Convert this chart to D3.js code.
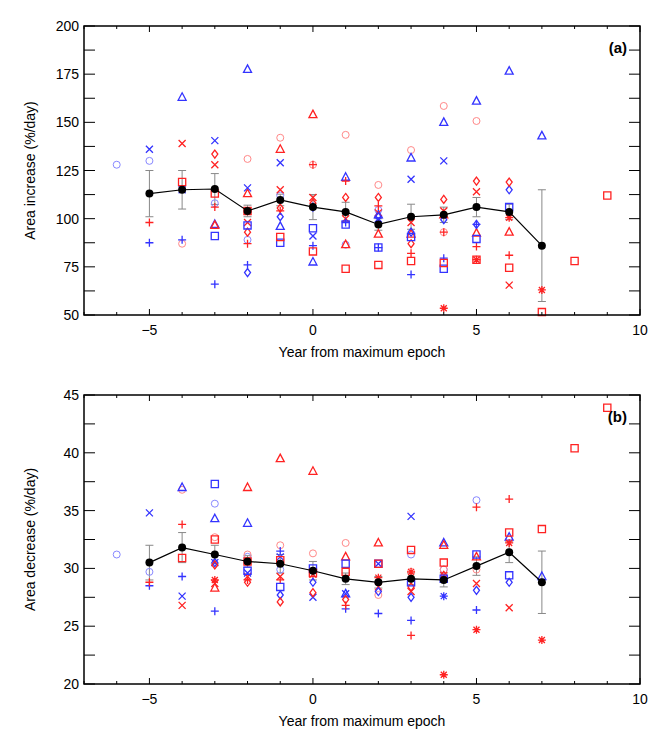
<!DOCTYPE html>
<html>
<head>
<meta charset="utf-8">
<script src="https://cdn.jsdelivr.net/npm/d3@7"></script>
<style>
  body { margin: 0; background: #fff; }
  text { font-family: "Liberation Sans", Arial, sans-serif; }
</style>
</head>
<body>
<div id="chart"></div>
<script>
// ---- data: [year from maximum epoch, value] ----
const years = [-5, -4, -3, -2, -1, 0, 1, 2, 3, 4, 5, 6, 7]

// panel (a) area increase (%/day)
const meanA = [113, 115, 115.4, 104, 109.7, 106, 103.5, 97, 101, 102, 106, 103.5, 86]
const errA = [12, 10, 8, 3, 3, 6.5, 5, 3, 6.5, 4, 5, 4, 29]
const blueCircleA = [[-6, 128], [-5, 130], [-3, 108], [-2, 89], [-1, 112], [1, 86.5], [2, 104.5]]
const redCircleA = [[-4, 87], [-2, 131], [-1, 142], [0, 128], [1, 143.5], [2, 117.5], [3, 135.6], [4, 158.5], [4, 93], [5, 150.7]]
const blueTriangleA = [[-4, 163], [-3, 97], [-2, 177.5], [-1, 96], [0, 77.5], [1, 121.5], [2, 102], [3, 131.5], [4, 150], [5, 161], [6, 176.6], [7, 143]]
const redTriangleA = [[-3, 96.5], [-2, 113], [-1, 136], [0, 154], [1, 86.5], [2, 92], [3, 92], [4, 102], [5, 92.5], [6, 93]]
const blueXA = [[-5, 136], [-4, 115], [-3, 140.5], [-2, 116], [-1, 129], [0, 91], [2, 100], [3, 120.5], [4, 130]]
const redXA = [[-4, 139], [-3, 128], [-2, 98], [-1, 115], [0, 111], [1, 100], [2, 103], [3, 98], [4, 104], [5, 114], [6, 65.5]]
const bluePlusA = [[-5, 87.5], [-4, 89], [-3, 66], [-2, 76], [0, 86], [1, 98], [2, 85], [3, 71], [4, 79.5], [5, 97]]
const redPlusA = [[-5, 98], [-3, 106], [-2, 87], [-1, 104], [0, 128], [1, 119.5], [2, 106.6], [3, 82], [4, 93], [5, 85.5], [6, 81]]
const blueDiamondA = [[-2, 72], [-1, 101], [0, 106], [2, 101], [3, 93], [4, 99.5], [5, 97], [6, 115]]
const redDiamondA = [[-3, 133.5], [-2, 93], [-1, 105.5], [0, 108], [1, 111], [2, 111], [3, 87], [4, 110], [5, 119.5], [6, 119]]
const blueSquareA = [[-3, 91], [-2, 96.5], [-1, 87.5], [0, 95], [1, 97], [2, 85], [3, 90.5], [4, 74], [5, 89.5], [6, 106]]
const redSquareA = [[-4, 119], [-3, 113], [-2, 104], [-1, 90.5], [0, 83], [1, 74], [2, 76], [3, 78], [4, 77], [5, 78.7], [6, 74.5], [7, 51.5], [8, 78], [9, 112]]
const redStarA = [[4, 53.5], [5, 78.7], [6, 100.5], [7, 63]]

// panel (b) area decrease (%/day)
const meanB = [30.5, 31.8, 31.2, 30.6, 30.4, 29.8, 29.1, 28.8, 29.1, 29.0, 30.2, 31.4, 28.8]
const errB = [1.5, 1.3, 0.8, 0.5, 0.8, 0.8, 0.5, 0.5, 0.5, 0.6, 0.8, 0.9, 2.7]
const blueCircleB = [[-6, 31.2], [-5, 29.7], [-3, 35.6], [-2, 31], [-1, 29.9], [3, 31.2], [5, 35.9], [4, 29.9]]
const redCircleB = [[-4, 36.8], [-3, 32.7], [-2, 31.2], [-1, 32], [0, 31.3], [1, 32.2], [2, 27.7], [3, 29.7], [4, 29.9], [5, 29.9], [6, 32.5]]
const blueTriangleB = [[-4, 37], [-3, 34.3], [-2, 33.9], [1, 27.8], [4, 32.2], [6, 32.7], [7, 29.3]]
const redTriangleB = [[-3, 28.3], [-2, 37], [-1, 39.5], [0, 38.4], [1, 31], [2, 32.2], [4, 32], [5, 31]]
const blueXB = [[-5, 34.8], [-4, 27.6], [-3, 30.5], [-2, 29.6], [-1, 31], [0, 27.5], [1, 27.8], [2, 30.4], [3, 34.5]]
const redXB = [[-4, 26.8], [-3, 28.7], [-2, 29.3], [-1, 29.3], [0, 29.5], [2, 28.4], [3, 28], [4, 29.4], [5, 28.7], [6, 26.6]]
const bluePlusB = [[-5, 28.5], [-4, 29.3], [-3, 26.3], [-1, 31.5], [1, 26.5], [2, 26.1], [3, 25.5], [5, 26.4]]
const redPlusB = [[-5, 28.8], [-4, 33.8], [-2, 29], [-1, 29], [1, 26.8], [3, 24.2], [5, 35.3], [6, 36]]
const blueDiamondB = [[-3, 30.5], [-1, 27.7], [0, 28.8], [2, 28], [3, 27.5], [5, 28.1], [6, 28.8]]
const redDiamondB = [[-3, 30.3], [-2, 28.8], [-1, 27.1], [0, 27.9], [1, 27.3], [3, 28.4], [4, 29.4]]
const blueSquareB = [[-3, 37.3], [-2, 29.8], [-1, 28.4], [0, 30], [1, 30.4], [2, 30.4], [3, 28.8], [4, 29.1], [5, 31.2], [6, 29.4]]
const redSquareB = [[-4, 30.9], [-3, 32.5], [-2, 30.6], [-1, 30.7], [0, 29.6], [1, 29.7], [2, 30.4], [3, 31.6], [4, 30.5], [6, 33.1], [7, 33.4], [8, 40.4], [9, 43.9]]
const redStarB = [[-3, 29], [2, 29.2], [3, 29.7], [4, 20.8], [5, 24.7], [6, 32.2], [7, 23.8]]
const blueStarB = [[4, 27.6]]

const xTicks = [-5, 0, 5, 10]
const yTicksA = [50, 75, 100, 125, 150, 175, 200]
const yTicksB = [20, 25, 30, 35, 40, 45]

const RED = '#ff2222'
const BLUE = '#3333ff'
const RED_LIGHT = '#ff8888'
const BLUE_LIGHT = '#8888ff'

// marker shapes as path strings centred on 0,0
const shapes = {
  circle: 'M3.5,0A3.5,3.5 0 1,1 -3.5,0A3.5,3.5 0 1,1 3.5,0Z',
  triangle: 'M0,-4.5L4,3L-4,3Z',
  square: 'M-3.6,-3.6H3.6V3.6H-3.6Z',
  x: 'M-3.5,-3.5L3.5,3.5M-3.5,3.5L3.5,-3.5',
  plus: 'M-4,0H4M0,-4V4',
  diamond: 'M0,-4L3,0L0,4L-3,0Z',
  star: 'M-4,0H4M0,-4V4M-3,-3L3,3M-3,3L3,-3'
}

const width = 665
const height = 738
const svg = d3.select('#chart').append('svg')
  .attr('width', width)
  .attr('height', height)

const x = d3.scaleLinear().domain([-7, 10]).range([84, 640])

function drawPanel (cfg) {
  const y = d3.scaleLinear().domain(cfg.yDomain).range([cfg.bottom, cfg.top])
  const g = svg.append('g')

  // error bars
  const eb = g.append('g').attr('stroke', '#888').attr('stroke-width', 1)
  years.forEach((yr, i) => {
    const hi = y(cfg.mean[i] + cfg.err[i])
    const lo = y(cfg.mean[i] - cfg.err[i])
    eb.append('line').attr('x1', x(yr)).attr('x2', x(yr)).attr('y1', hi).attr('y2', lo)
    eb.append('line').attr('x1', x(yr) - 4).attr('x2', x(yr) + 4).attr('y1', hi).attr('y2', hi)
    eb.append('line').attr('x1', x(yr) - 4).attr('x2', x(yr) + 4).attr('y1', lo).attr('y2', lo)
  })

  // scatter markers
  cfg.series.forEach(s => {
    g.append('g').selectAll('path').data(s.data).enter().append('path')
      .attr('d', shapes[s.shape])
      .attr('transform', d => `translate(${x(d[0])},${y(d[1])})`)
      .attr('fill', 'none')
      .attr('stroke', s.color)
      .attr('stroke-width', s.shape === 'circle' ? 1 : 1.3)
  })

  // mean line
  const meanPts = years.map((yr, i) => [yr, cfg.mean[i]])
  g.append('path')
    .datum(meanPts)
    .attr('d', d3.line().x(d => x(d[0])).y(d => y(d[1])))
    .attr('fill', 'none')
    .attr('stroke', '#000')
    .attr('stroke-width', 1.2)
  g.selectAll('.mean').data(meanPts).enter().append('circle')
    .attr('cx', d => x(d[0]))
    .attr('cy', d => y(d[1]))
    .attr('r', 4)
    .attr('fill', '#000')

  // axes (IDL style box with inward ticks)
  const ax = svg.append('g').attr('stroke', '#000')
  const minorX = d3.range(-7, 11, 1)
  minorX.forEach(v => {
    const len = v % 5 === 0 ? 6 : 3
    ax.append('line').attr('x1', x(v)).attr('x2', x(v)).attr('y1', cfg.bottom).attr('y2', cfg.bottom - len).attr('stroke-width', 1)
    ax.append('line').attr('x1', x(v)).attr('x2', x(v)).attr('y1', cfg.top).attr('y2', cfg.top + len).attr('stroke-width', 1)
  })
  const yMinor = d3.range(cfg.yDomain[0], cfg.yDomain[1] + 0.001, cfg.yMinorStep)
  yMinor.forEach(v => {
    ax.append('line').attr('x1', 84).attr('x2', 95).attr('y1', y(v)).attr('y2', y(v)).attr('stroke-width', 1)
    ax.append('line').attr('x1', 640).attr('x2', 629).attr('y1', y(v)).attr('y2', y(v)).attr('stroke-width', 1)
  })
  ax.append('rect')
    .attr('x', 84).attr('y', cfg.top)
    .attr('width', 640 - 84).attr('height', cfg.bottom - cfg.top)
    .attr('fill', 'none').attr('stroke-width', 1.5)

  // tick labels
  const lab = svg.append('g').attr('font-size', 14).attr('fill', '#000')
  xTicks.forEach(v => {
    lab.append('text').attr('x', x(v)).attr('y', cfg.bottom + 20)
      .attr('text-anchor', 'middle').text(v < 0 ? '\u2212' + Math.abs(v) : v)
  })
  cfg.yTicks.forEach(v => {
    lab.append('text').attr('x', 79).attr('y', y(v) + 5)
      .attr('text-anchor', 'end').text(v)
  })
  lab.append('text')
    .attr('x', 362).attr('y', cfg.bottom + 42)
    .attr('text-anchor', 'middle').text('Year from maximum epoch')
  lab.append('text')
    .attr('transform', `translate(35,${(cfg.top + cfg.bottom) / 2}) rotate(-90)`)
    .attr('text-anchor', 'middle').text(cfg.yTitle)
  lab.append('text')
    .attr('x', 627).attr('y', cfg.top + 27)
    .attr('text-anchor', 'end').attr('font-weight', 'bold').attr('font-size', 15)
    .text(cfg.tag)
}

drawPanel({
  top: 26,
  bottom: 315,
  yDomain: [50, 200],
  yMinorStep: 12.5,
  yTicks: yTicksA,
  mean: meanA,
  err: errA,
  yTitle: 'Area increase (%/day)',
  tag: '(a)',
  series: [
    {data: blueCircleA, shape: 'circle', color: BLUE_LIGHT},
    {data: redCircleA, shape: 'circle', color: RED_LIGHT},
    {data: blueTriangleA, shape: 'triangle', color: BLUE},
    {data: redTriangleA, shape: 'triangle', color: RED},
    {data: blueXA, shape: 'x', color: BLUE},
    {data: redXA, shape: 'x', color: RED},
    {data: bluePlusA, shape: 'plus', color: BLUE},
    {data: redPlusA, shape: 'plus', color: RED},
    {data: blueDiamondA, shape: 'diamond', color: BLUE},
    {data: redDiamondA, shape: 'diamond', color: RED},
    {data: blueSquareA, shape: 'square', color: BLUE},
    {data: redSquareA, shape: 'square', color: RED},
    {data: redStarA, shape: 'star', color: RED}
  ]
})

drawPanel({
  top: 395,
  bottom: 684,
  yDomain: [20, 45],
  yMinorStep: 2.5,
  yTicks: yTicksB,
  mean: meanB,
  err: errB,
  yTitle: 'Area decrease (%/day)',
  tag: '(b)',
  series: [
    {data: blueCircleB, shape: 'circle', color: BLUE_LIGHT},
    {data: redCircleB, shape: 'circle', color: RED_LIGHT},
    {data: blueTriangleB, shape: 'triangle', color: BLUE},
    {data: redTriangleB, shape: 'triangle', color: RED},
    {data: blueXB, shape: 'x', color: BLUE},
    {data: redXB, shape: 'x', color: RED},
    {data: bluePlusB, shape: 'plus', color: BLUE},
    {data: redPlusB, shape: 'plus', color: RED},
    {data: blueDiamondB, shape: 'diamond', color: BLUE},
    {data: redDiamondB, shape: 'diamond', color: RED},
    {data: blueSquareB, shape: 'square', color: BLUE},
    {data: redSquareB, shape: 'square', color: RED},
    {data: redStarB, shape: 'star', color: RED},
    {data: blueStarB, shape: 'star', color: BLUE}
  ]
})
</script>
</body>
</html>
